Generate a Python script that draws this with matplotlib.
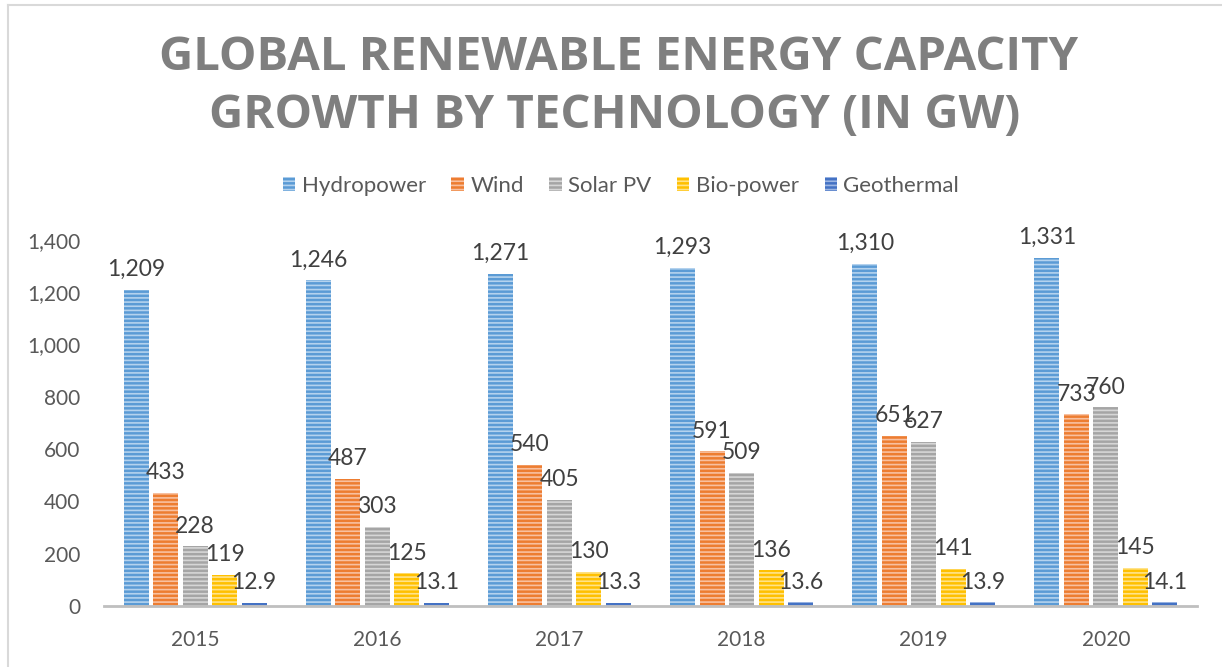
import numpy as np
import matplotlib
matplotlib.use("Agg")
import matplotlib.pyplot as plt
from matplotlib.lines import Line2D

years = ["2015", "2016", "2017", "2018", "2019", "2020"]
technologies = ["Hydropower", "Wind", "Solar PV", "Bio-power", "Geothermal"]
hydropower = [1209, 1246, 1271, 1293, 1310, 1331]
wind = [433, 487, 540, 591, 651, 733]
solar_pv = [228, 303, 405, 509, 627, 760]
bio_power = [119, 125, 130, 136, 141, 145]
geothermal = [12.9, 13.1, 13.3, 13.6, 13.9, 14.1]

series = [hydropower, wind, solar_pv, bio_power, geothermal]
colors = ["#5B9BD5", "#ED7D31", "#A5A5A5", "#FFC000", "#4472C4"]
stripe = ["#B4D2EE", "#F8C0A0", "#D6D6D6", "#FFE38A", "#9DB6E3"]

plt.rcParams["font.family"] = ["Lato", "DejaVu Sans"]
plt.rcParams["hatch.linewidth"] = 1.2

fig = plt.figure(figsize=(12.22, 6.67), dpi=100)
ax = fig.add_axes([104 / 1222, 61 / 667, 1093 / 1222, 366 / 667])

x = np.arange(len(years))
width = 25 / 182
pitch = 29.5 / 182
for i, (vals, name) in enumerate(zip(series, technologies)):
    pos = x + (i - 2) * pitch
    bars = ax.bar(pos, vals, width, color=colors[i], edgecolor=stripe[i],
                  linewidth=0, hatch="----", label=name)
    for b, v in zip(bars, vals):
        ax.annotate(f"{v:,g}", (b.get_x() + b.get_width() / 2, v),
                    xytext=(0, 7), textcoords="offset points",
                    ha="center", va="bottom", fontsize=16.5, color="#404040")

ax.set_xlim(-0.5, 5.5)
ax.set_ylim(0, 1400)
ax.set_yticks(range(0, 1401, 200))
ax.yaxis.set_major_formatter(matplotlib.ticker.FuncFormatter(lambda v, p: f"{int(v):,}"))
ax.set_xticks(x)
ax.set_xticklabels(years)
ax.tick_params(axis="both", length=0, labelsize=15, colors="#595959")
ax.tick_params(axis="y", pad=17)
ax.tick_params(axis="x", pad=17)
for s in ["top", "right", "left"]:
    ax.spines[s].set_visible(False)
ax.spines["bottom"].set_color("#BFBFBF")
ax.spines["bottom"].set_linewidth(2)

handles = [plt.Rectangle((0, 0), 1, 1, facecolor=c, edgecolor=s, hatch="----", linewidth=0)
           for c, s in zip(colors, stripe)]
fig.legend(handles, technologies, loc="center", bbox_to_anchor=(621 / 1222, 1 - 186 / 667),
           ncol=5, frameon=False, fontsize=16, labelcolor="#595959",
           handlelength=0.55, handleheight=0.55, handletextpad=0.3, columnspacing=1.15)

fig.text(0.506, 1 - 58 / 667, "GLOBAL RENEWABLE ENERGY CAPACITY", ha="center", va="center",
         fontsize=34, fontweight="bold", color="#7F7F7F", family=["Open Sans", "DejaVu Sans"])
fig.text(0.503, 1 - 116 / 667, "GROWTH BY TECHNOLOGY (IN GW)", ha="center", va="center",
         fontsize=34, fontweight="bold", color="#7F7F7F", family=["Open Sans", "DejaVu Sans"])

fig.add_artist(Line2D([8 / 1222, 8 / 1222], [0, 1 - 5 / 667], color="#D9D9D9", linewidth=1.5))
fig.add_artist(Line2D([8 / 1222, 1], [1 - 5 / 667, 1 - 5 / 667], color="#D9D9D9", linewidth=1.5))

fig.savefig("out.png", dpi=100, facecolor="white")
